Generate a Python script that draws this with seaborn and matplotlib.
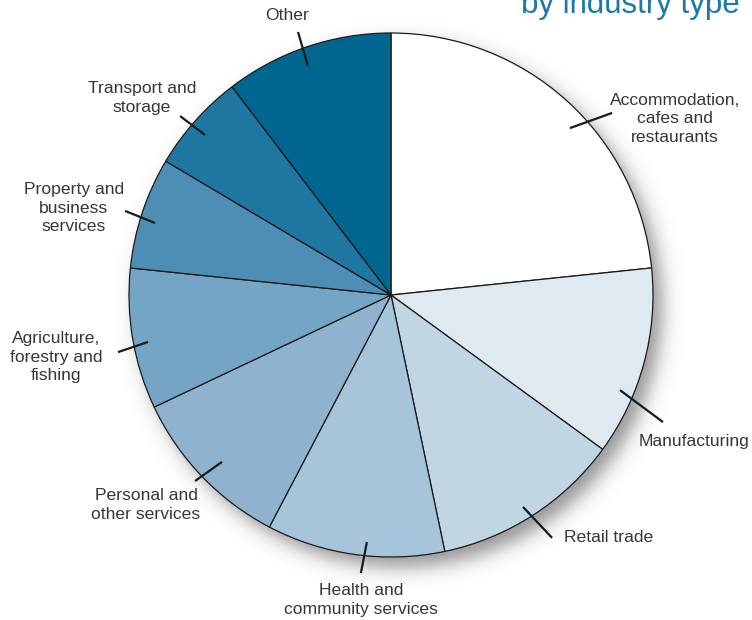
import numpy as np
import matplotlib
matplotlib.use("Agg")
import matplotlib.pyplot as plt
import seaborn as sns

sns.set_theme(style="white")
plt.rcParams['font.family'] = ['Liberation Sans', 'DejaVu Sans']

# shares by industry type (percent), clockwise from 12 o'clock
industries = ["Accommodation,\ncafes and\nrestaurants", "Manufacturing", "Retail trade",
              "Health and\ncommunity services", "Personal and\nother services",
              "Agriculture,\nforestry and\nfishing", "Property and\nbusiness\nservices",
              "Transport and\nstorage", "Other"]
shares = [23.4, 11.7, 11.7, 11.0, 10.3, 8.7, 6.9, 6.1, 10.4]
colours = ["#ffffff", "#dee9f1", "#c1d6e4", "#a6c4da", "#8fb3ce",
           "#74a5c5", "#4e8eb5", "#1f76a0", "#006690"]

# label anchor points and leader lines (pie radius = 1)
label_xy = [(1.084, 0.672), (1.156, -0.561), (0.832, -0.927), (-0.115, -1.164),
            (-0.935, -0.802), (-1.279, -0.237), (-1.210, 0.332), (-0.950, 0.752),
            (-0.397, 1.065)]
leaders = [((0.683, 0.637), (0.844, 0.695)), ((0.874, -0.363), (1.038, -0.485)),
           ((0.504, -0.809), (0.615, -0.927)), ((-0.092, -0.943), (-0.115, -1.061)),
           ((-0.645, -0.637), (-0.748, -0.710)), ((-0.927, -0.179), (-1.042, -0.218)),
           ((-0.901, 0.275), (-1.015, 0.321)), ((-0.710, 0.611), (-0.805, 0.683)),
           ((-0.317, 0.874), (-0.355, 1.004))]

xlim = (-391 / 262, (752 - 391) / 262)
ylim = (-(620 - 295) / 262, 295 / 262)

fig = plt.figure(figsize=(7.52, 6.2), dpi=100)
ax = fig.add_axes([0, 0, 1, 1])

# soft drop shadow (blurred disc offset to lower right)
gx, gy = np.meshgrid(np.linspace(*xlim, 600), np.linspace(*ylim, 500))
d = np.hypot(gx - 0.035, gy + 0.04)
alpha = 0.42 / (1 + np.exp((d - 1.0) / 0.022))
shadow = np.zeros(gx.shape + (4,))
shadow[..., 3] = alpha
ax.imshow(shadow, extent=(*xlim, *ylim), origin="lower", zorder=0,
          interpolation="bilinear", aspect="auto")

wedges, _ = ax.pie(shares, colors=colours, startangle=90, counterclock=False,
                   radius=1.0, wedgeprops=dict(edgecolor="#1a1a1a", linewidth=0.9))
for w in wedges:
    w.set_zorder(1)

for name, xy, (p0, p1) in zip(industries, label_xy, leaders):
    ax.plot([p0[0], p1[0]], [p0[1], p1[1]], color="#1a1a1a", lw=1.6,
            zorder=3, solid_capstyle="butt")
    ax.text(xy[0], xy[1], name, ha="center", va="center", fontsize=12.6,
            color="#363636", linespacing=1.3, zorder=4)

ax.text(1.332, 1.076, "by industry type", ha="right", va="baseline",
        fontsize=22.5, color="#1b78a8", zorder=4)

ax.set_xlim(*xlim)
ax.set_ylim(*ylim)
ax.set_aspect("equal")
ax.axis("off")

fig.savefig("out.png", dpi=100, facecolor="white")
